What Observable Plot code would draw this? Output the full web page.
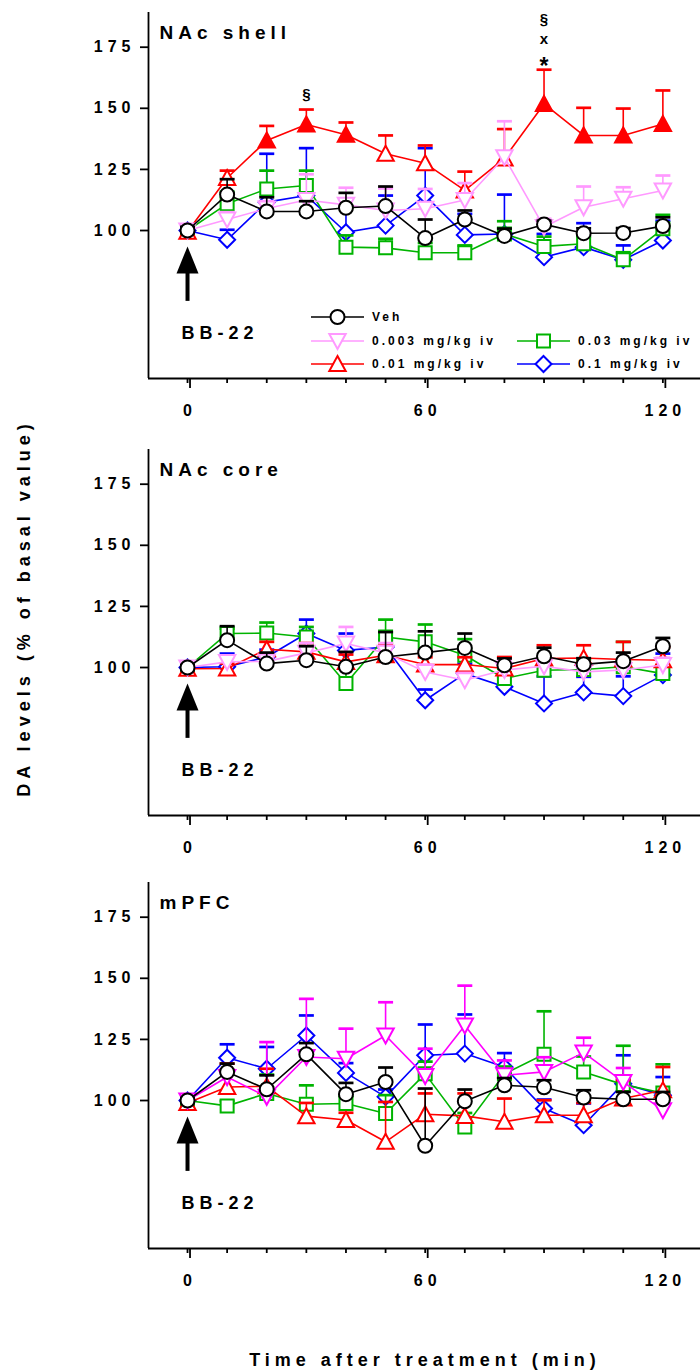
<!DOCTYPE html>
<html><head><meta charset="utf-8">
<script src="https://cdn.jsdelivr.net/npm/d3@7"></script>
<script src="https://cdn.jsdelivr.net/npm/@observablehq/plot@0.6"></script>
<style>
body{margin:0;background:#fff;}
#wrap{position:relative;width:700px;height:1371px;font-family:"Liberation Sans",Arial,sans-serif;font-weight:bold;color:#000;overflow:hidden;}
.pan{position:absolute;left:0;}
.lab{position:absolute;white-space:nowrap;font-size:18px;letter-spacing:5px;}
</style></head>
<body><div id="wrap"></div>
<script>
// ---------- data ----------
const times = [0,10,20,30,40,50,60,70,80,90,100,110,120];
const seriesNames = ["Veh","0.003 mg/kg iv","0.01 mg/kg iv","0.03 mg/kg iv","0.1 mg/kg iv"];
const panelTitles = ["NAc shell","NAc core","mPFC"];
const yTicks = [100,125,150,175];
const xMinorTicks = [0,10,20,30,40,50,60,70,80,90,100,110,120];
const xMajorTicks = [0,60,120];
const yLabel = "DA levels (% of basal value)";
const xLabel = "Time after treatment (min)";
const drugLabel = "BB-22";

// NAc shell
const vehShell = [100,114.7,107.8,107.8,109.3,110,96.9,104.5,97.8,102.5,98.9,99,101.8];
const vehShellErr = [1.5,6.3,5.8,4.2,6.1,8,7.6,3.7,3,1.5,2,2,3.6];
const lowShell = [100,104.5,109,112.5,110.5,108.2,108.9,112.5,130,101.4,109.5,113,116.4];
const lowShellErr = [1,3,3,10.5,7,9,8.1,6.9,14.7,3.4,8.5,4.7,6.1];
const midShell = [99.5,121.5,136.8,143.4,139.2,131.4,127.5,116.4,129.5,151.8,138.9,138.9,143.6];
const midShellErr = [1,3,6,6.1,5,7.5,7.3,7.7,12,14,11.3,11,13.7];
const midShellSig = [0,0,1,1,1,0,0,0,0,1,1,1,1];
const hiShell = [100,110.9,117,118.4,93.2,92.9,90.9,90.9,98.6,93.5,94.6,88,100.7];
const hiShellErr = [1.5,5,7.5,6.1,4.8,3.7,4,3,5.2,4,3,3.1,5.7];
const topShell = [100,96.2,111.6,114.3,99.3,102,114.3,98.2,98.6,89.1,93.2,88,95.9];
const topShellErr = [1,4.1,19.8,19.4,13.7,12.3,19.4,8.6,16.1,9.5,9.8,5.9,8.1];
const sigTimes = [30,90,90,90];
const sigLevels = [155.9,186.6,178.1,168.5];
const sigLabels = ["§","§","x","*"];

// NAc core
const vehCore = [100,111.2,101.6,103,100.3,104.3,106.1,108,100.9,104.6,101.3,102.6,108.7];
const vehCoreErr = [1,5.7,4.5,5.7,6.1,10.2,8.7,5.9,2.8,3.5,2.5,3.5,3.4];
const lowCore = [100,102.3,102.5,106,109.8,106,98.2,94.8,99,100.5,98.2,99,101];
const lowCoreErr = [1,2,3,4,6.8,4,3,3,4,3,3,3,3];
const midCore = [99.5,99.6,107.5,106.4,102.3,105,101.2,101.2,99.6,103.7,103.9,103.3,103];
const midCoreErr = [1,2,3,3.6,3,4.4,3,3,4.7,5.4,5.2,7.2,5.4];
const hiCore = [100,113.9,114.1,112.5,93.5,112.5,110.5,105,95.5,98.9,99.2,100.3,97.5];
const hiCoreErr = [1,2,4.3,4.1,6,7.1,7.1,6.6,4,4,4,10.2,6.2];
const topCore = [100,100.3,104.3,113.9,107,108.4,86.6,97.5,92.1,85.3,89.8,88.3,96.9];
const topCoreErr = [1,5.4,3,5.7,6.9,3,4.4,4,4,11.1,6.4,8.1,8.8];

// mPFC
const vehPfc = [100,111.7,104.6,118.9,102.6,107.6,81.5,99.7,106.2,105.4,101.2,100.5,100.5];
const vehPfcErr = [1,3.4,5.7,4.6,4.6,5.9,23.4,4.8,3,2.9,3,3,3];
const lowPfc = [100,109.6,101.5,117.8,117.1,126.6,110,130.7,110.3,111.7,119.6,107.6,96];
const lowPfcErr = [1,3,22.4,23.8,12.3,13.6,11.2,16.3,6.1,6,6.1,5.7,4];
const midPfc = [99,105.5,105.8,93.6,92,83.1,94.4,93.7,91.3,94,94,100.8,104.2];
const midPfcErr = [1,9.6,7.2,5.4,3,16.3,8.5,9.2,9.5,6.1,5,7.5,9.5];
const hiPfc = [100,97.8,102.9,98.5,98.8,94.7,110.9,89.2,110.9,118.9,111.7,106.5,103.1];
const hiPfcErr = [1,2,7.7,7.7,3,7.5,5,5.7,3,17.6,6.3,15.9,11.7];
const topPfc = [100,117.5,113,126.6,111.3,101.5,118.5,119.2,113.7,96.7,89.9,106.9,102.2];
const topPfcErr = [1,5.5,8.9,8.2,4,3,12.6,16,5.7,3.7,8.9,11.6,7.4];

// drug-injection arrow (time, tip level, tail level) and label level
const arrowTime = 0, arrowTip = 93.5, arrowTail = 71, drugLabelLevel = 58;

// ---------- style ----------
const xDomain = [-9.85, 129.5];
const yDomain = [39.45, 189.2];
const FONT = '"Liberation Sans", Arial, sans-serif';
const colors = {veh:"#000000", low:"#ff99ff", lowPfc:"#ff00ff", mid:"#ff0000", hi:"#00b400", top:"#0000ff"};

const upTri = {draw(c){c.moveTo(0,-8);c.lineTo(8.2,7);c.lineTo(-8.2,7);c.closePath();}};
const downTri = {draw(c){c.moveTo(0,8);c.lineTo(8.2,-7);c.lineTo(-8.2,-7);c.closePath();}};
const square = {draw(c){c.moveTo(-6.5,-6.5);c.lineTo(6.5,-6.5);c.lineTo(6.5,6.5);c.lineTo(-6.5,6.5);c.closePath();}};
const diamond = {draw(c){c.moveTo(0,-8);c.lineTo(8,0);c.lineTo(0,8);c.lineTo(-8,0);c.closePath();}};
const circle = {draw(c){c.moveTo(7,0);c.arc(0,0,7,0,2*Math.PI);c.closePath();}};
const cap = {draw(c){c.moveTo(-7.5,0);c.lineTo(7.5,0);}};
const arrowHead = {draw(c){c.moveTo(0,0);c.lineTo(11,27);c.lineTo(-11,27);c.closePath();}};

function seriesMarks(s){
  const rows = times.map((t,i)=>({t, v:s.values[i], top:s.values[i]+s.errors[i], f: s.filled ? s.filled[i] : 0}));
  return [
    Plot.ruleX(rows,{x:"t", y1:"v", y2:"top", stroke:s.color, strokeWidth:1.6}),
    Plot.dot(rows,{x:"t", y:"top", symbol:cap, r:4, stroke:s.color, fill:"none", strokeWidth:2.7}),
    Plot.line(rows,{x:"t", y:"v", stroke:s.color, strokeWidth:1.6}),
    Plot.dot(rows,{x:"t", y:"v", symbol:s.symbol, r:4, stroke:s.color, strokeWidth:2, fill:"white", filter:d=>!d.f}),
    Plot.dot(rows,{x:"t", y:"v", symbol:s.symbol, r:4, stroke:s.color, strokeWidth:2, fill:s.color, filter:d=>d.f})
  ];
}

function panel(title, series, extra=[]){
  // draw order: 0.1, 0.03, 0.01, 0.003, Veh
  const order = [4,3,2,1,0];
  return Plot.plot({
    width:700, height:437, marginLeft:148, marginRight:0, marginTop:12, marginBottom:59,
    x:{domain:xDomain, label:null},
    y:{domain:yDomain, label:null},
    style:{fontFamily:FONT, fontWeight:"bold", fontSize:"16px", letterSpacing:"5px", color:"black", background:"white", overflow:"visible"},
    marks:[
      Plot.axisY({ticks:yTicks, tickSize:8, tickPadding:5, strokeWidth:1.8, label:null, fontSize:16}),
      Plot.axisX({ticks:xMinorTicks, tickSize:5, strokeWidth:1.8, tickFormat:()=>"", label:null}),
      Plot.axisX({ticks:xMajorTicks, tickSize:10, tickPadding:16, strokeWidth:1.8, dx:2.5, label:null, fontSize:16}),
      Plot.ruleY([yDomain[0]],{strokeWidth:1.8}),
      Plot.ruleX([xDomain[0]],{strokeWidth:1.8}),
      Plot.text([title],{frameAnchor:"top-left", dx:11, dy:20, textAnchor:"start", lineAnchor:"middle", fontSize:19}),
      Plot.ruleX([arrowTime],{y1:arrowTail, y2:arrowTip-8, strokeWidth:4, stroke:"black"}),
      Plot.dot([arrowTime],{x:d=>d, y:()=>arrowTip, symbol:arrowHead, r:4, fill:"black", stroke:"none"}),
      Plot.text([drugLabel],{x:()=>arrowTime, y:()=>drugLabelLevel, textAnchor:"start", dx:-6, fontSize:18}),
      ...order.flatMap(i=>seriesMarks(series[i])),
      ...extra
    ]
  });
}

const shellSeries = [
  {values:vehShell, errors:vehShellErr, color:colors.veh, symbol:circle},
  {values:lowShell, errors:lowShellErr, color:colors.low, symbol:downTri},
  {values:midShell, errors:midShellErr, color:colors.mid, symbol:upTri, filled:midShellSig},
  {values:hiShell, errors:hiShellErr, color:colors.hi, symbol:square},
  {values:topShell, errors:topShellErr, color:colors.top, symbol:diamond}
];
const coreSeries = [
  {values:vehCore, errors:vehCoreErr, color:colors.veh, symbol:circle},
  {values:lowCore, errors:lowCoreErr, color:colors.low, symbol:downTri},
  {values:midCore, errors:midCoreErr, color:colors.mid, symbol:upTri},
  {values:hiCore, errors:hiCoreErr, color:colors.hi, symbol:square},
  {values:topCore, errors:topCoreErr, color:colors.top, symbol:diamond}
];
const pfcSeries = [
  {values:vehPfc, errors:vehPfcErr, color:colors.veh, symbol:circle},
  {values:lowPfc, errors:lowPfcErr, color:colors.lowPfc, symbol:downTri},
  {values:midPfc, errors:midPfcErr, color:colors.mid, symbol:upTri},
  {values:hiPfc, errors:hiPfcErr, color:colors.hi, symbol:square},
  {values:topPfc, errors:topPfcErr, color:colors.top, symbol:diamond}
];

const sigRows = sigTimes.map((t,i)=>({t, v:sigLevels[i], label:sigLabels[i]}));
const sigMarks = [
  Plot.text(sigRows,{x:"t", y:"v", text:"label", fontSize:15, dx:2.5, filter:d=>d.label!=="*"}),
  Plot.text(sigRows,{x:"t", y:"v", text:"label", fontSize:23, dx:2.5, dy:4, filter:d=>d.label==="*"})
];

const wrap = document.getElementById("wrap");
const tops = [0,437,870];
const plots = [
  panel(panelTitles[0], shellSeries, sigMarks),
  panel(panelTitles[1], coreSeries),
  panel(panelTitles[2], pfcSeries)
];
plots.forEach((p,i)=>{
  const d = document.createElement("div");
  d.className = "pan"; d.style.top = tops[i]+"px";
  d.appendChild(p); wrap.appendChild(d);
});

// legend inside top panel
const legendSymbols = [circle, downTri, upTri, square, diamond];
const legendColors = [colors.veh, colors.low, colors.mid, colors.hi, colors.top];
const legendCol = [0,0,0,1,1];
const legendRow = [0,1,2,1,2];
const colX = [311, 517], rowY = [317, 341, 364];
const lg = d3.select(plots[0]).append("g");
seriesNames.forEach((name,i)=>{
  const x0 = colX[legendCol[i]], y0 = rowY[legendRow[i]];
  const g = lg.append("g");
  g.append("line").attr("x1",x0).attr("x2",x0+53).attr("y1",y0).attr("y2",y0).attr("stroke",legendColors[i]).attr("stroke-width",1.6);
  g.append("path").attr("d", d3.symbol(legendSymbols[i], 50)()).attr("transform",`translate(${x0+26.5},${y0})`)
    .attr("fill","white").attr("stroke",legendColors[i]).attr("stroke-width",2);
  g.append("text").attr("x",x0+61).attr("y",y0).attr("dy","0.35em").attr("text-anchor","start")
    .attr("font-size",12).style("letter-spacing","3px").text(name);
});

// axis titles
const yl = document.createElement("div");
yl.className = "lab"; yl.textContent = yLabel;
yl.style.left = "24px"; yl.style.top = "608px"; yl.style.transform = "translate(-50%,-50%) rotate(-90deg)";
wrap.appendChild(yl);
const xl = document.createElement("div");
xl.className = "lab"; xl.textContent = xLabel;
xl.style.left = "425px"; xl.style.top = "1360px"; xl.style.transform = "translate(-50%,-50%)";
wrap.appendChild(xl);
</script>
</body></html>
